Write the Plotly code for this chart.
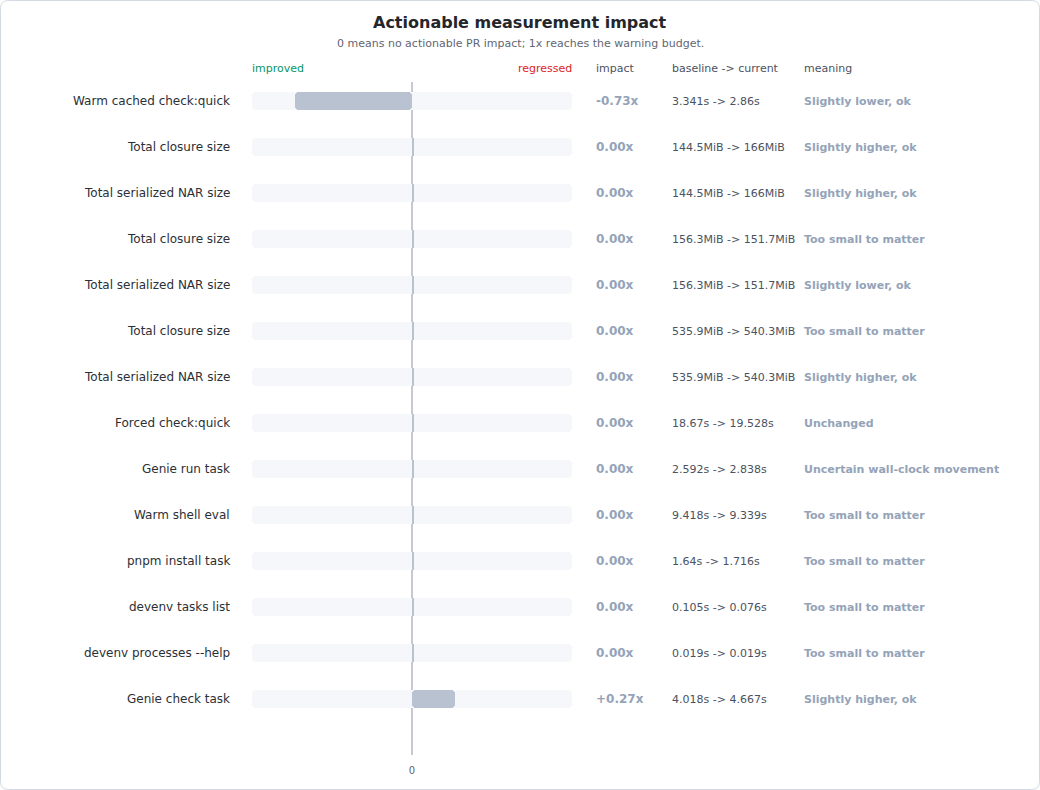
import plotly.graph_objects as go

labels = ["Warm cached check:quick", "Total closure size", "Total serialized NAR size",
          "Total closure size", "Total serialized NAR size", "Total closure size",
          "Total serialized NAR size", "Forced check:quick", "Genie run task",
          "Warm shell eval", "pnpm install task", "devenv tasks list",
          "devenv processes --help", "Genie check task"]
impact = [-0.73, 0.0, 0.0, 0.0, 0.0, 0.0, 0.0, 0.0, 0.0, 0.0, 0.0, 0.0, 0.0, 0.27]
baseline_current = ["3.341s -> 2.86s", "144.5MiB -> 166MiB", "144.5MiB -> 166MiB",
                    "156.3MiB -> 151.7MiB", "156.3MiB -> 151.7MiB", "535.9MiB -> 540.3MiB",
                    "535.9MiB -> 540.3MiB", "18.67s -> 19.528s", "2.592s -> 2.838s",
                    "9.418s -> 9.339s", "1.64s -> 1.716s", "0.105s -> 0.076s",
                    "0.019s -> 0.019s", "4.018s -> 4.667s"]
meaning = ["Slightly lower, ok", "Slightly higher, ok", "Slightly higher, ok",
           "Too small to matter", "Slightly lower, ok", "Too small to matter",
           "Slightly higher, ok", "Unchanged", "Uncertain wall-clock movement",
           "Too small to matter", "Too small to matter", "Too small to matter",
           "Too small to matter", "Slightly higher, ok"]

W, H = 1040, 790
ML, MR, MT, MB = 252, 468, 82, 35
PW, PH = W - ML - MR, H - MT - MB
FONT = "DejaVu Sans, Verdana, sans-serif"

def px(x):
    return (x - ML) / PW

def py(y):
    return (H - MB - y) / PH

n = len(labels)
ys = list(range(n))
min_w = 0.0125
disp = [v if abs(v) >= min_w else min_w for v in impact]

fig = go.Figure()
fig.add_trace(go.Bar(y=ys, x=[2] * n, base=[-1] * n, orientation="h", width=0.39,
                     marker=dict(color="#f5f7fa", line=dict(width=0)),
                     hoverinfo="skip", showlegend=False))
fig.add_trace(go.Bar(y=ys, x=disp, base=[0] * n, orientation="h", width=0.39,
                     marker=dict(color="#b8c2d0", line=dict(width=0)),
                     customdata=impact, hovertemplate="%{customdata:.2f}x<extra></extra>",
                     showlegend=False))

# annotation boxes add ~2px padding; compensate so text edges land on target pixels
PADL = -2
PADR = 2

ann = []
for i in range(n):
    ann.append(dict(x=px(230 + PADR), y=i, xref="paper", yref="y", text=labels[i], showarrow=False,
                    xanchor="right", yanchor="middle", font=dict(size=12, color="#2b2f36")))
    v = impact[i]
    t = ("+" if v > 0 else "") + f"{v:.2f}x"
    ann.append(dict(x=px(596 + PADL), y=i, xref="paper", yref="y", text="<b>" + t + "</b>", showarrow=False,
                    xanchor="left", yanchor="middle", font=dict(size=12, color="#94a3b8")))
    ann.append(dict(x=px(672 + PADL), y=i, xref="paper", yref="y", text=baseline_current[i], showarrow=False,
                    xanchor="left", yanchor="middle", font=dict(size=11, color="#4b5260")))
    ann.append(dict(x=px(804 + PADL), y=i, xref="paper", yref="y", text="<b>" + meaning[i] + "</b>", showarrow=False,
                    xanchor="left", yanchor="middle", font=dict(size=11, color="#94a3b8")))

hy = py(68)
ann += [
    dict(x=px(252 + PADL), y=hy, xref="paper", yref="paper", text="improved", showarrow=False,
         xanchor="left", yanchor="middle", font=dict(size=11, color="#059669")),
    dict(x=px(572 + PADR), y=hy, xref="paper", yref="paper", text="regressed", showarrow=False,
         xanchor="right", yanchor="middle", font=dict(size=11, color="#dc2626")),
    dict(x=px(596 + PADL), y=hy, xref="paper", yref="paper", text="impact", showarrow=False,
         xanchor="left", yanchor="middle", font=dict(size=11, color="#4b5260")),
    dict(x=px(672 + PADL), y=hy, xref="paper", yref="paper", text="baseline -> current", showarrow=False,
         xanchor="left", yanchor="middle", font=dict(size=11, color="#4b5260")),
    dict(x=px(804 + PADL), y=hy, xref="paper", yref="paper", text="meaning", showarrow=False,
         xanchor="left", yanchor="middle", font=dict(size=11, color="#4b5260")),
    dict(x=px(520), y=py(22), xref="paper", yref="paper", text="<b>Actionable measurement impact</b>",
         showarrow=False, xanchor="center", yanchor="middle", font=dict(size=16, color="#23262b")),
    dict(x=px(520), y=py(44), xref="paper", yref="paper",
         text="0 means no actionable PR impact; 1x reaches the warning budget.",
         showarrow=False, xanchor="center", yanchor="middle", font=dict(size=11, color="#5f6672")),
]

# card border (rounded rect)
x0, x1, y0, y1, r = 0.5, W - 0.5, 0.5, H - 0.5, 8
pts = lambda x, y: f"{px(x)},{py(y)}"
path = (f"M {pts(x0 + r, y0)} L {pts(x1 - r, y0)} Q {pts(x1, y0)} {pts(x1, y0 + r)} "
        f"L {pts(x1, y1 - r)} Q {pts(x1, y1)} {pts(x1 - r, y1)} "
        f"L {pts(x0 + r, y1)} Q {pts(x0, y1)} {pts(x0, y1 - r)} "
        f"L {pts(x0, y0 + r)} Q {pts(x0, y0)} {pts(x0 + r, y0)} Z")

shapes = [
    dict(type="path", path=path, xref="paper", yref="paper",
         line=dict(color="#d3d9e2", width=1), fillcolor="rgba(0,0,0,0)", layer="below"),
    dict(type="line", x0=0, x1=0, y0=0, y1=1, xref="x", yref="paper",
         line=dict(color="#c6cad0", width=2), layer="below"),
]

fig.update_layout(
    width=W, height=H, margin=dict(l=ML, r=MR, t=MT, b=MB, pad=0),
    paper_bgcolor="white", plot_bgcolor="white",
    font=dict(family=FONT, color="#2b2f36"),
    barmode="overlay", barcornerradius=4, bargap=0,
    xaxis=dict(range=[-1, 1], showgrid=False, zeroline=False, showline=False,
               tickvals=[0], ticktext=["0"], ticks="", tickfont=dict(size=10, color="#5f6672"),
               ticklabelstandoff=8, fixedrange=True),
    yaxis=dict(range=[n - 1 + 56 / 46, -19 / 46], showgrid=False, zeroline=False,
               showline=False, showticklabels=False, ticks="", fixedrange=True),
    annotations=ann, shapes=shapes, showlegend=False,
)

fig.write_html("out.html")
